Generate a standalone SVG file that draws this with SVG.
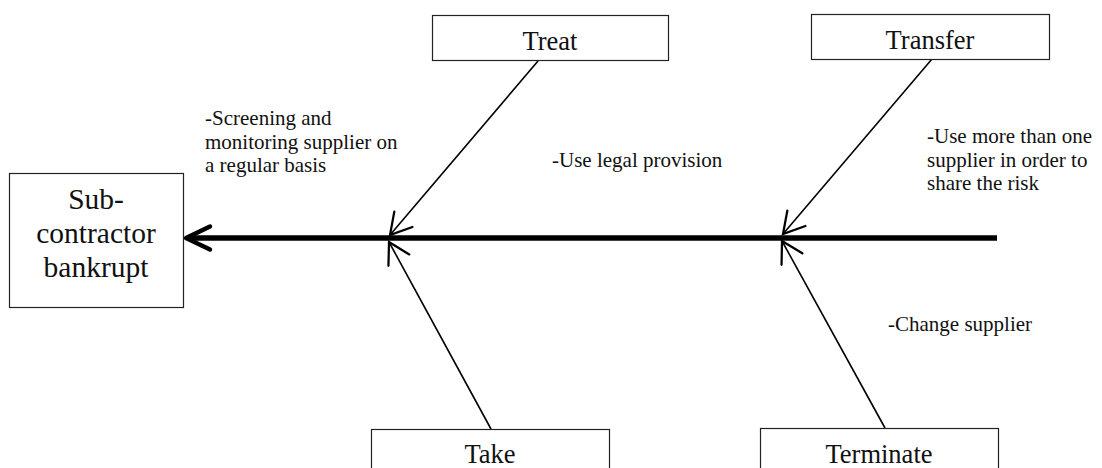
<svg xmlns="http://www.w3.org/2000/svg" width="1102" height="468" viewBox="0 0 1102 468">
  <style>
    .box { fill: #ffffff; stroke: #222222; stroke-width: 1.2; }
    .lbl { font-family: "Liberation Serif", "Times New Roman", serif; fill: #111111; }
    .boxtxt { font-size: 26.5px; text-anchor: middle; }
    .main { font-size: 29.5px; text-anchor: middle; }
    .note { font-size: 21px; }
    .bone { stroke: #000000; stroke-width: 1.6; fill: none; marker-end: url(#openTip); }
  </style>
  <defs>
    <marker id="openTip" markerUnits="userSpaceOnUse" markerWidth="30" markerHeight="30" viewBox="-20 -12 24 24" refX="0" refY="0" orient="auto" overflow="visible">
      <path d="M -16.5 -9.5 L 0 0 L -16.5 9.5" fill="none" stroke="#000000" stroke-width="1.8" stroke-linecap="round" stroke-linejoin="miter"/>
    </marker>
  </defs>

  <rect width="1102" height="468" fill="#ffffff"/>

  <!-- connectors: spine and the four bones -->
  <g id="connectors">
    <line x1="190" y1="238" x2="997" y2="238" stroke="#000000" stroke-width="5.5"/>
    <polyline points="210,226.5 186,238 210,249.5" fill="none" stroke="#000000" stroke-width="4.5" stroke-linecap="round" stroke-linejoin="round"/>
    <line class="bone" x1="538" y1="61" x2="390" y2="235"/>
    <line class="bone" x1="932" y1="59" x2="783" y2="234"/>
    <line class="bone" x1="491" y1="429" x2="389" y2="242"/>
    <line class="bone" x1="885" y1="428" x2="782" y2="241"/>
  </g>

  <!-- effect box -->
  <g id="node-effect">
    <rect class="box" x="9.5" y="173.5" width="174" height="134"/>
    <text class="lbl main" x="96" y="209">Sub-</text>
    <text class="lbl main" x="96" y="243">contractor</text>
    <text class="lbl main" x="96" y="277">bankrupt</text>
  </g>

  <g id="node-treat">
    <rect class="box" x="432.5" y="15.5" width="236" height="45"/>
    <text class="lbl boxtxt" x="550" y="50">Treat</text>
  </g>

  <g id="node-transfer">
    <rect class="box" x="811.5" y="14.5" width="238" height="45"/>
    <text class="lbl boxtxt" x="930" y="49">Transfer</text>
  </g>

  <g id="node-take">
    <rect class="box" x="371.5" y="429.5" width="238" height="60"/>
    <text class="lbl boxtxt" x="490" y="463">Take</text>
  </g>

  <g id="node-terminate">
    <rect class="box" x="760.5" y="428.5" width="238" height="60"/>
    <text class="lbl boxtxt" x="879" y="463">Terminate</text>
  </g>

  <!-- measure notes -->
  <g id="note-treat">
    <text class="lbl note" x="205" y="125">-Screening and</text>
    <text class="lbl note" x="205" y="149">monitoring supplier on</text>
    <text class="lbl note" x="205" y="172">a regular basis</text>
  </g>

  <g id="note-legal">
    <text class="lbl note" x="552" y="167">-Use legal provision</text>
  </g>

  <g id="note-transfer">
    <text class="lbl note" x="927" y="143">-Use more than one</text>
    <text class="lbl note" x="927" y="167">supplier in order to</text>
    <text class="lbl note" x="927" y="190">share the risk</text>
  </g>

  <g id="note-terminate">
    <text class="lbl note" x="888" y="331">-Change supplier</text>
  </g>
</svg>
